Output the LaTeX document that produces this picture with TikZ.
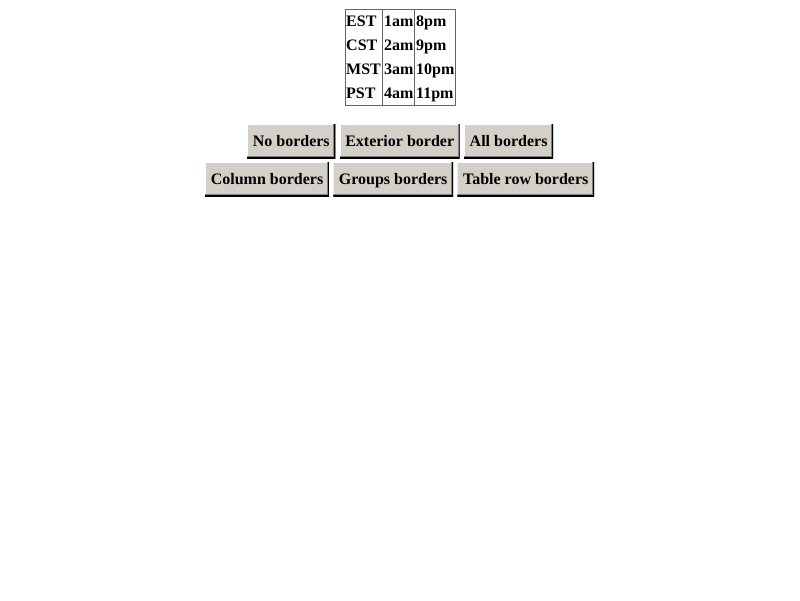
\documentclass[tikz,border=0pt]{standalone}
\usepackage{fontspec}
\setmainfont{Liberation Serif}
\usetikzlibrary{positioning}
\definecolor{btnface}{RGB}{212,208,200}
\definecolor{btnshade}{RGB}{128,128,128}
\definecolor{tblline}{RGB}{100,100,100}

\tikzset{
    cell/.style={anchor=base west, inner sep=0pt, font=\fontsize{16}{19}\selectfont\bfseries},
    btn/.style={fill=btnface, minimum height=34pt, inner xsep=5.6pt, inner ysep=0pt,
        text height=10.6pt, text depth=0pt, font=\fontsize{16}{19}\selectfont\bfseries,
        path picture={
            \draw[white, line width=2pt] (path picture bounding box.south west) --
                (path picture bounding box.north west) -- (path picture bounding box.north east);
            \draw[btnshade, line width=4pt] (path picture bounding box.south west) --
                (path picture bounding box.south east) -- (path picture bounding box.north east);
            \draw[black, line width=2pt] (path picture bounding box.south west) --
                (path picture bounding box.south east) -- (path picture bounding box.north east);
        }},
}

\begin{document}
\begin{tikzpicture}[x=1pt, y=-1pt]
    \useasboundingbox[fill=white] (0,0) rectangle (800,600);

    % time table
    \node [draw=tblline, line width=1pt, anchor=north west, minimum width=110pt, minimum height=96pt, inner sep=0pt] (tbl) at (344.5,8.5) {};
    \draw[tblline, line width=1pt] (tbl.north west) ++(38,0) -- ++(0,96);
    \draw[tblline, line width=1pt] (tbl.north west) ++(70,0) -- ++(0,96);

    \foreach \zone/\early/\late [count=\r] in {EST/1am/8pm, CST/2am/9pm, MST/3am/10pm, PST/4am/11pm} {
        \node [cell] (zone\r) at (346, 2.7+24*\r) {\zone};
        \node [cell] (early\r) at (384, 2.7+24*\r) {\early};
        \node [cell] (late\r) at (416, 2.7+24*\r) {\late};
    }

    % buttons, first row
    \node [btn, anchor=west] (noborders) at (247,141) {No borders};
    \node [btn, right=4pt of noborders] (exterior) {Exterior border};
    \node [btn, right=4pt of exterior] (allborders) {All borders};

    % buttons, second row
    \node [btn, anchor=west] (columns) at (205,179) {Column borders};
    \node [btn, right=4pt of columns] (groups) {Groups borders};
    \node [btn, right=4pt of groups] (tablerows) {Table row borders};

\end{tikzpicture}
\end{document}
